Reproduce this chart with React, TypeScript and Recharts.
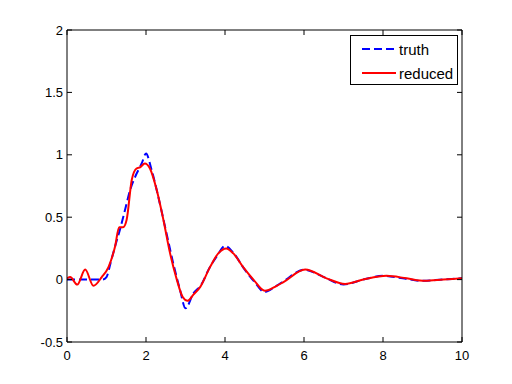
import { LineChart, Line, XAxis, YAxis, Legend } from "recharts";

// truth response (blue dashed)
const truthX = [0, 0.5, 0.9, 1.0, 1.1, 1.22, 1.34, 1.47, 1.6, 1.72, 1.89, 2.0, 2.14, 2.35, 2.52, 2.69, 2.86, 3.0, 3.2, 3.4, 3.6, 3.8, 4.0, 4.2, 4.5, 4.75, 5.0, 5.3, 5.5, 6.0, 6.5, 7.0, 7.5, 8.0, 8.5, 9.0, 9.5, 10];
const truthY = [0, 0, 0, 0.02, 0.13, 0.27, 0.4, 0.56, 0.72, 0.82, 0.93, 1.01, 0.88, 0.61, 0.37, 0.13, -0.08, -0.23, -0.11, -0.04, 0.09, 0.19, 0.27, 0.22, 0.08, -0.02, -0.1, -0.05, -0.01, 0.08, 0.02, -0.04, 0.0, 0.03, 0.01, -0.01, 0.0, 0.01];

// reduced model (red solid)
const reducedX = [0, 0.08, 0.26, 0.46, 0.67, 0.88, 1.05, 1.22, 1.32, 1.42, 1.51, 1.64, 1.76, 1.85, 1.97, 2.1, 2.27, 2.44, 2.61, 2.78, 2.93, 3.05, 3.2, 3.37, 3.62, 3.83, 4.03, 4.21, 4.46, 4.72, 5.01, 5.31, 5.48, 6.03, 6.57, 7.04, 7.5, 8.09, 8.6, 9.06, 9.53, 10];
const reducedY = [0.01, 0.02, -0.04, 0.08, -0.05, 0.02, 0.1, 0.27, 0.42, 0.42, 0.48, 0.8, 0.89, 0.9, 0.93, 0.89, 0.72, 0.48, 0.21, 0.0, -0.14, -0.17, -0.12, -0.06, 0.1, 0.21, 0.25, 0.21, 0.1, 0.0, -0.09, -0.05, -0.02, 0.08, 0.01, -0.035, 0.0, 0.03, 0.01, -0.01, 0.0, 0.01];

const xTicks = [0, 2, 4, 6, 8, 10];
const yTicks = [-0.5, 0, 0.5, 1, 1.5, 2];

const truth = truthX.map((x, i) => ({ x, y: truthY[i] }));
const reduced = reducedX.map((x, i) => ({ x, y: reducedY[i] }));

const font = { fontSize: 13, fill: "#000", fontFamily: "'Liberation Sans', Arial, sans-serif" };
const axisStroke = "#000";
const blank = () => "";

function LegendBox() {
  const rows = [
    { label: "truth", color: "#0000ff", dash: "8 4" },
    { label: "reduced", color: "#ff0000", dash: undefined },
  ];
  return (
    <div
      style={{
        border: "1px solid #000",
        background: "#fff",
        width: 106,
        height: 48,
        fontFamily: "'Liberation Sans', Arial, sans-serif",
        fontSize: 15,
        color: "#000",
        boxSizing: "content-box",
      }}
    >
      {rows.map((r, i) => (
        <div key={r.label} style={{ display: "flex", alignItems: "center", height: 24, marginTop: i === 0 ? 1 : 0 }}>
          <svg width={48} height={24}>
            <line x1={11} x2={45} y1={12} y2={12} stroke={r.color} strokeWidth={2} strokeDasharray={r.dash} />
          </svg>
          <span>{r.label}</span>
        </div>
      ))}
    </div>
  );
}

export default function App() {
  return (
    <div style={{ position: "absolute", left: 0, top: 0, width: 512, height: 384, background: "#fff" }}>
      <LineChart width={512} height={384} margin={{ top: 29, right: 49, bottom: 12, left: 0 }}>
        <XAxis
          xAxisId={0}
          dataKey="x"
          type="number"
          domain={[0, 10]}
          ticks={xTicks}
          allowDataOverflow
          height={30}
          stroke={axisStroke}
          tick={font}
          tickSize={-5}
          tickMargin={14}
        />
        <XAxis
          xAxisId="top"
          orientation="top"
          dataKey="x"
          type="number"
          domain={[0, 10]}
          ticks={xTicks}
          allowDataOverflow
          height={1}
          stroke={axisStroke}
          tickFormatter={blank}
          tickSize={-5}
        />
        <YAxis
          yAxisId={0}
          type="number"
          domain={[-0.5, 2]}
          ticks={yTicks}
          allowDataOverflow
          width={67}
          stroke={axisStroke}
          tick={font}
          tickSize={-5}
          tickMargin={9}
        />
        <YAxis
          yAxisId="right"
          orientation="right"
          type="number"
          domain={[-0.5, 2]}
          ticks={yTicks}
          allowDataOverflow
          width={1}
          stroke={axisStroke}
          tickFormatter={blank}
          tickSize={-5}
        />
        <Legend
          layout="vertical"
          align="center"
          verticalAlign="middle"
          wrapperStyle={{ left: 350, top: 35, width: 108, height: 50 }}
          content={() => <LegendBox />}
        />
        {/* invisible series so the top and right box axes get drawn */}
        <Line
          xAxisId="top"
          yAxisId="right"
          data={truth}
          dataKey="y"
          stroke="none"
          dot={false}
          activeDot={false}
          legendType="none"
          isAnimationActive={false}
        />
        <Line
          data={truth}
          dataKey="y"
          type="monotone"
          stroke="#0000ff"
          strokeWidth={2}
          strokeDasharray="8 4"
          dot={false}
          isAnimationActive={false}
        />
        <Line
          data={reduced}
          dataKey="y"
          type="monotone"
          stroke="#ff0000"
          strokeWidth={2}
          dot={false}
          isAnimationActive={false}
        />
      </LineChart>
    </div>
  );
}
